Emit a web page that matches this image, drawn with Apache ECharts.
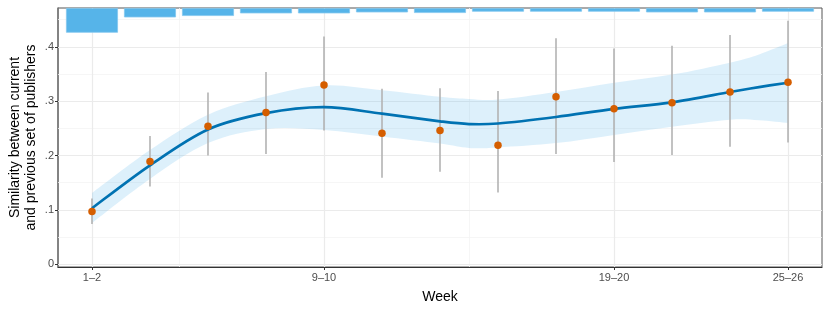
<!DOCTYPE html>
<html><head><meta charset="utf-8">
<script src="https://cdn.jsdelivr.net/npm/echarts@6/dist/echarts.min.js"></script>
<style>html,body{margin:0;padding:0;background:#fff}#c{width:830px;height:312px}</style>
</head><body><div id="c"></div>
<script>
// ---- data ----
const weekLabels = ['1–2','3–4','5–6','7–8','9–10','11–12','13–14','15–16','17–18','19–20','21–22','23–24','25–26'];
const weekIdx = [1,2,3,4,5,6,7,8,9,10,11,12,13];
const meanSim = [0.097,0.189,0.254,0.279,0.330,0.241,0.246,0.219,0.308,0.286,0.297,0.317,0.335];
const errLow  = [0.074,0.143,0.200,0.203,0.246,0.159,0.170,0.132,0.203,0.188,0.201,0.216,0.224];
const errHigh = [0.121,0.236,0.316,0.354,0.419,0.323,0.324,0.319,0.416,0.397,0.402,0.422,0.448];
const fitX    = [1,2,3,4,5,6,7,7.5,8,9,10,11,12,12.5,13];
const fitY    = [0.103,0.182,0.248,0.278,0.289,0.277,0.263,0.258,0.259,0.271,0.286,0.298,0.317,0.326,0.334];
const fitLow  = [0.076,0.157,0.223,0.249,0.247,0.235,0.222,0.214,0.215,0.223,0.238,0.253,0.266,0.265,0.260];
const fitHigh = [0.131,0.210,0.275,0.309,0.329,0.320,0.308,0.304,0.303,0.317,0.334,0.349,0.371,0.386,0.407];
const topBars = [0.0455,0.0173,0.0147,0.0099,0.0099,0.0081,0.0092,0.0068,0.0068,0.0068,0.0081,0.0081,0.0068];
const xTicks = [1,5,10,13];
const xMinor = [2.5,7.5];
const yTicks = [0,0.1,0.2,0.3,0.4];
const yMinor = [0.05,0.15,0.25,0.35,0.45];

const Y_MIN = -0.0052, Y_MAX = 0.4716, X_MIN = 0.414, X_MAX = 13.586;

const chart = echarts.init(document.getElementById('c'));
const txt = '#4D4D4D';
const font = 'Liberation Sans, Arial, sans-serif';

const gridLines = [].concat(
  xMinor.map(v => ({xAxis: v, lineStyle: {color: '#F4F4F4', width: 0.8, type: 'solid'}})),
  yMinor.map(v => ({yAxis: v, lineStyle: {color: '#F4F4F4', width: 0.8, type: 'solid'}})),
  xTicks.map(v => ({xAxis: v, lineStyle: {color: '#EBEBEB', width: 1.2, type: 'solid'}})),
  yTicks.map(v => ({yAxis: v, lineStyle: {color: '#EBEBEB', width: 1.2, type: 'solid'}}))
);

function smoothPath(pts) {
  let d = [];
  for (let i = 0; i < pts.length - 1; i++) {
    const p0 = pts[Math.max(i - 1, 0)], p1 = pts[i], p2 = pts[i + 1], p3 = pts[Math.min(i + 2, pts.length - 1)];
    const t = 1 / 6;
    d.push([p1[0] + (p2[0] - p0[0]) * t, p1[1] + (p2[1] - p0[1]) * t,
            p2[0] - (p3[0] - p1[0]) * t, p2[1] - (p3[1] - p1[1]) * t, p2[0], p2[1]]);
  }
  return d;
}
function pathFrom(pts) {
  let s = 'M' + pts[0][0] + ',' + pts[0][1];
  smoothPath(pts).forEach(c => s += 'C' + c.join(','));
  return s;
}

const option = {
  animation: false,
  grid: {left: 58, right: 8, top: 8, bottom: 45, containLabel: false, outerBoundsMode: 'none',
         show: true, borderColor: '#555', borderWidth: 1, backgroundColor: '#fff'},
  xAxis: {
    type: 'value', min: X_MIN, max: X_MAX,
    name: 'Week', nameLocation: 'middle', nameGap: 23, nameMoveOverlap: false,
    nameTextStyle: {color: '#000', fontSize: 14, fontFamily: font},
    axisLine: {show: true, onZero: false, lineStyle: {color: '#333', width: 1.2}},
    axisTick: {show: true, customValues: xTicks, length: 3, lineStyle: {color: '#333'}},
    axisLabel: {customValues: xTicks, color: txt, fontSize: 11, fontFamily: font, margin: 5,
      formatter: v => weekLabels[weekIdx.indexOf(Math.round(v))]},
    splitLine: {show: false}
  },
  yAxis: [{
    type: 'value', min: Y_MIN, max: Y_MAX,
    name: 'Similarity between current\nand previous set of publishers', nameLocation: 'middle', nameGap: 19,
    nameMoveOverlap: false,
    nameTextStyle: {color: '#000', fontSize: 14, fontFamily: font, lineHeight: 16},
    axisLine: {show: true, onZero: false, lineStyle: {color: '#777', width: 1.5}},
    axisTick: {show: true, customValues: yTicks, length: 3, lineStyle: {color: '#333'}},
    axisLabel: {customValues: yTicks, color: txt, fontSize: 11, fontFamily: font, margin: 4,
      formatter: v => Math.abs(v) < 1e-9 ? '0' : '.' + Math.round(v * 10)},
    splitLine: {show: false}
  }, {
    type: 'value', min: 0, max: Y_MAX - Y_MIN, inverse: true, show: false
  }],
  series: [
    {type: 'line', z: 1, silent: true, data: [], symbol: 'none',
     markLine: {z: 1, silent: true, symbol: 'none', label: {show: false}, data: gridLines, animation: false}},
    {type: 'custom', z: 2, silent: true, data: [[fitX[0], fitY[0]]],
     renderItem: (params, api) => {
       const up = fitX.map((x, i) => api.coord([x, fitHigh[i]]));
       const lo = fitX.map((x, i) => api.coord([x, fitLow[i]])).reverse();
       let s = pathFrom(up);
       s += 'L' + lo[0][0] + ',' + lo[0][1];
       smoothPath(lo).forEach(c => s += 'C' + c.join(','));
       return {type: 'path', shape: {pathData: s + 'Z'}, style: {fill: 'rgba(86,180,233,0.2)', stroke: null}};
     }},
    {type: 'bar', z: 3, yAxisIndex: 1, barWidth: 52, data: weekIdx.map((x, i) => [x, topBars[i]]),
     itemStyle: {color: '#56B4E9', borderColor: '#84C8EF', borderWidth: 0.8}},
    {type: 'custom', z: 4, data: weekIdx.map((x, i) => [x, errLow[i], errHigh[i]]),
     renderItem: (params, api) => {
       const a = api.coord([api.value(0), api.value(1)]);
       const b = api.coord([api.value(0), api.value(2)]);
       return {type: 'line', shape: {x1: a[0], y1: a[1], x2: b[0], y2: b[1]},
         style: {stroke: '#B3B3B3', lineWidth: 1.6}};
     }},
    {type: 'custom', z: 5, silent: true, data: [[fitX[0], fitY[0]]],
     renderItem: (params, api) => {
       const pts = fitX.map((x, i) => api.coord([x, fitY[i]]));
       return {type: 'path', shape: {pathData: pathFrom(pts)},
         style: {fill: null, stroke: '#0072B2', lineWidth: 2.7}};
     }},
    {type: 'scatter', z: 6, data: weekIdx.map((x, i) => [x, meanSim[i]]), symbolSize: 7.5,
     itemStyle: {color: '#D55E00', opacity: 1}}
  ]
};
chart.setOption(option);
</script></body></html>
